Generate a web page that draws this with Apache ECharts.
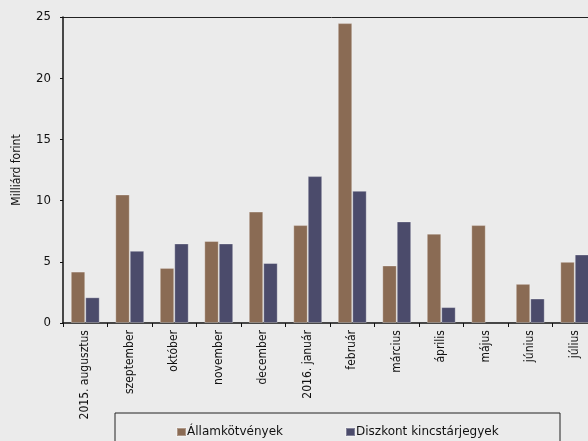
<!DOCTYPE html>
<html>
<head>
<meta charset="utf-8">
<script src="https://cdn.jsdelivr.net/npm/echarts@6/dist/echarts.min.js"></script>
<style>
html,body{margin:0;padding:0;background:#ebebeb;overflow:hidden;width:588px;height:441px;}
#c{width:600px;height:441px;}
</style>
</head>
<body>
<div id="c"></div>
<script>
var categories = ['2015. augusztus','szeptember','október','november','december','2016. január','február','március','április','május','június','július'];
var allamkotvenyek = [4.2, 10.5, 4.5, 6.7, 9.1, 8.0, 24.5, 4.7, 7.3, 8.0, 3.2, 5.0];
var diszkont = [2.1, 5.9, 6.5, 6.5, 4.9, 12.0, 10.8, 8.3, 1.3, null, 2.0, 5.6];
var yTicks = [0, 5, 10, 15, 20, 25];

var FONT = "'DejaVu Sans Condensed', 'DejaVu Sans', sans-serif";
var FONT2 = "'DejaVu Sans', sans-serif";
var chart = echarts.init(document.getElementById('c'), null, {renderer: 'canvas'});
chart.setOption({
  backgroundColor: '#ebebeb',
  animation: false,
  textStyle: {fontFamily: FONT},
  grid: {left: 63, top: 17, width: 534, height: 306, show: false, containLabel: false},
  legend: {
    left: 176, top: 426, padding: 0, itemWidth: 9, itemHeight: 8, itemGap: 62,
    icon: 'rect',
    textStyle: {fontFamily: FONT2, fontSize: 12, color: '#111', padding: [0,0,0,-4]},
    data: ['Államkötvények', 'Diszkont kincstárjegyek']
  },
  graphic: [{
    type: 'rect', shape: {x: 115, y: 413, width: 445, height: 40},
    style: {fill: 'transparent', stroke: '#222', lineWidth: 1}
  }, {
    type: 'line', shape: {x1: 63, y1: 17.5, x2: 600, y2: 17.5},
    style: {stroke: '#222', lineWidth: 1}
  }],
  xAxis: {
    type: 'category', data: categories,
    axisLine: {lineStyle: {color: '#111', width: 1.5}},
    axisTick: {show: true, length: 4, lineStyle: {color: '#111'}},
    axisLabel: {rotate: 90, margin: 7, fontSize: 12, color: '#111', fontFamily: FONT, interval: 0}
  },
  yAxis: {
    type: 'value', min: yTicks[0], max: yTicks[yTicks.length-1], interval: 5,
    name: 'Milliárd forint', nameLocation: 'middle', nameGap: 40,
    nameTextStyle: {fontSize: 12, color: '#111', fontFamily: FONT},
    splitLine: {show: false},
    axisLine: {show: true, lineStyle: {color: '#111', width: 1.5}},
    axisTick: {show: true, length: 3, lineStyle: {color: '#111'}},
    axisLabel: {fontSize: 13, color: '#111', margin: 12, fontFamily: FONT}
  },
  series: [{
    name: 'Államkötvények', type: 'bar', data: allamkotvenyek,
    barGap: '0%', barCategoryGap: '35%',
    itemStyle: {color: '#8a6b54', borderColor: 'rgba(255,255,255,0.3)', borderWidth: 1}
  }, {
    name: 'Diszkont kincstárjegyek', type: 'bar', data: diszkont,
    barGap: '0%', barCategoryGap: '35%',
    itemStyle: {color: '#4b4b6b', borderColor: 'rgba(255,255,255,0.3)', borderWidth: 1}
  }]
});
</script>
</body>
</html>
